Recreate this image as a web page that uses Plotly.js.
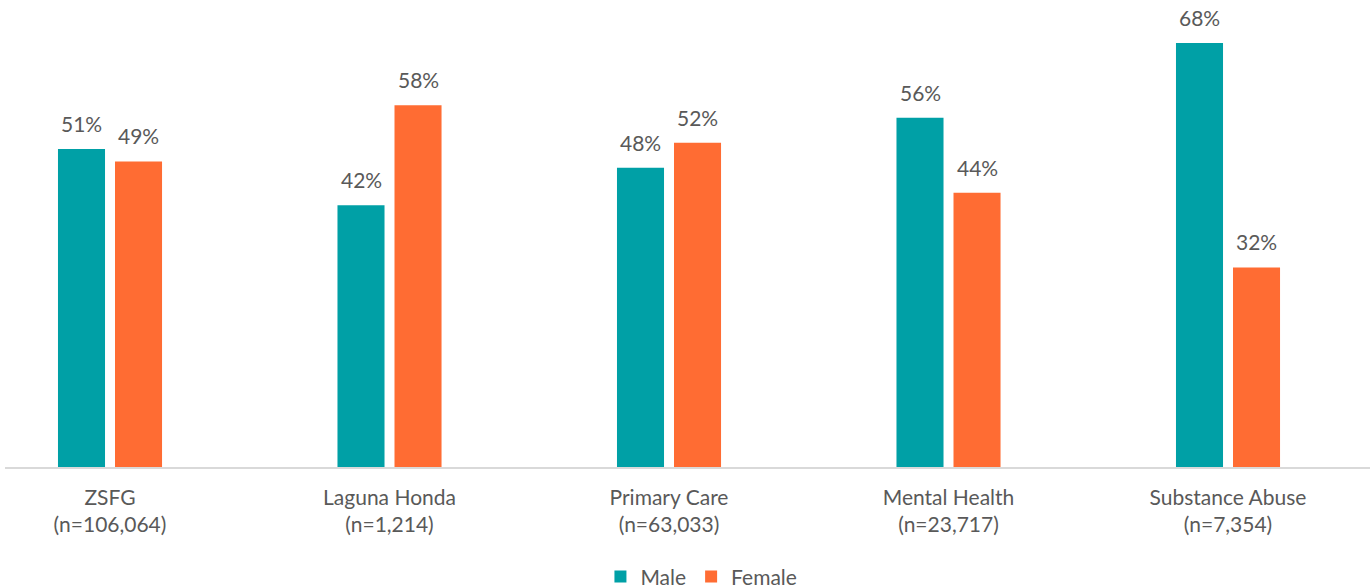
<!DOCTYPE html>
<html><head><meta charset="utf-8">
<script src="https://cdn.plot.ly/plotly-3.0.1.min.js"></script>
<style>html,body{margin:0;padding:0;background:#fff}#c{width:1370px;height:588px}</style>
</head><body><div id="c"></div>
<script>
const categories = ["ZSFG<br>(n=106,064)", "Laguna Honda<br>(n=1,214)", "Primary Care<br>(n=63,033)", "Mental Health<br>(n=23,717)", "Substance Abuse<br>(n=7,354)"];
const male = [51, 42, 48, 56, 68];
const female = [49, 58, 52, 44, 32];
const font = "Lato, 'Open Sans', sans-serif";
const grey = "#595959";
const traces = [
  {type:"bar", name:"Male", x:categories, y:male, marker:{color:"#00A0A6"}, hoverinfo:"none"},
  {type:"bar", name:"Female", x:categories, y:female, marker:{color:"#FF6C33"}, hoverinfo:"none"}
];
const annotations = [];
[[male, -28.5], [female, 28.5]].forEach(([vals, dx]) => {
  vals.forEach((v, i) => annotations.push({
    x: categories[i], y: v, xref:"x", yref:"y", text: v + "%", showarrow:false,
    xshift: dx, yshift: 11, yanchor:"bottom", font:{family:font, size:21, color:grey}
  }));
});
const layout = {
  width:1370, height:588,
  margin:{l:5, r:0, t:0, b:121},
  barmode:"group", bargap:0.592, bargroupgap:0.175,
  font:{family:font, color:grey, size:21},
  paper_bgcolor:"#fff", plot_bgcolor:"#fff",
  annotations: annotations,
  xaxis:{type:"category", range:[-0.3757, 4.508], showline:true, linecolor:"#d9d9d9", linewidth:1.5, automargin:false,
         ticks:"", ticklabelstandoff:11, tickfont:{family:font,size:21,color:grey}, showgrid:false, fixedrange:true},
  yaxis:{range:[0, 74.9], visible:false, showgrid:false, zeroline:false, fixedrange:true, automargin:false},
  showlegend:true,
  legend:{orientation:"h", xref:"container", x:0.512, xanchor:"center", yref:"container", y:0.019, yanchor:"middle",
          font:{family:font,size:21,color:grey}, traceorder:"normal"}
};
Plotly.newPlot("c", traces, layout, {displayModeBar:false, staticPlot:true});
</script></body></html>
